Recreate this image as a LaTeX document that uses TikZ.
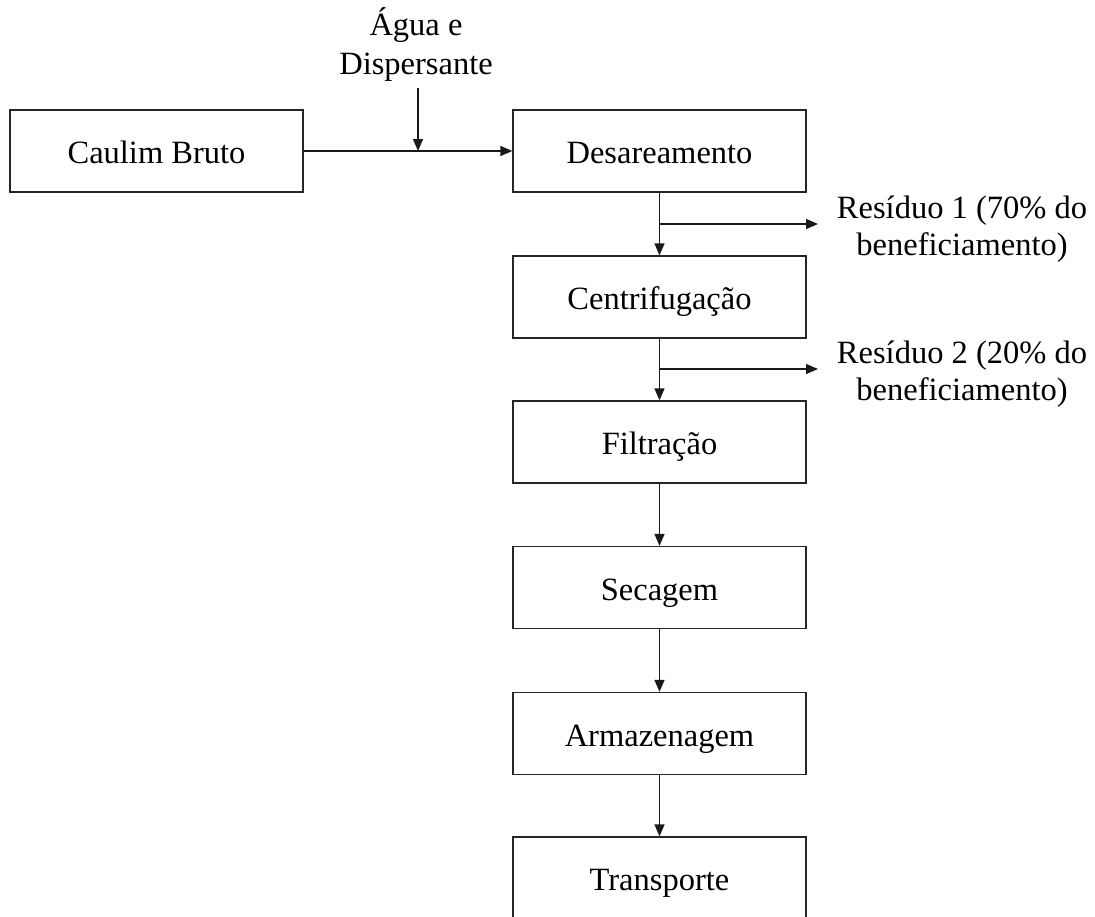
\documentclass[tikz,border=0pt]{standalone}
\usepackage{fontspec}
\setmainfont{Liberation Serif}
\usetikzlibrary{arrows.meta,calc}
\begin{document}
\begin{tikzpicture}[x=1pt,y=-1pt,
  box/.style={draw=black!85,line width=1.3pt,minimum width=293pt,minimum height=82pt,inner sep=0pt,
    text height=25pt,text depth=0pt,font=\fontsize{32.5}{42}\selectfont},
  lbl/.style={align=center,inner sep=0pt,font=\fontsize{32.5}{39}\selectfont},
  rlbl/.style={align=center,inner sep=0pt,font=\fontsize{32.5}{37}\selectfont},
  arr/.style={draw=black!90,line width=1.3pt,-{Triangle[length=12pt,width=10pt]}}]
\useasboundingbox (0,0) rectangle (1095,916);
\node[box] (cb) at (156.5,151) {Caulim Bruto};
\node[box] (des) at (659.5,151) {Desareamento};
\node[box] (cen) at (659.5,297) {Centrifugação};
\node[box] (fil) at (659.5,442) {Filtração};
\node[box] (sec) at (659.5,587.5) {Secagem};
\node[box] (arm) at (659.5,733.5) {Armazenagem};
\node[box] (tra) at (659.5,878) {Transporte};
\node[lbl] (agua) at (416,44.5) {Água e\\Dispersante};
\node[rlbl] (r1) at (962,229) {Resíduo 1 (70\% do\\beneficiamento)};
\node[rlbl] (r2) at (962,374) {Resíduo 2 (20\% do\\beneficiamento)};
\coordinate (a0) at (418,88);
\coordinate (j) at (418,151);
\coordinate (b1) at (659.5,224);
\coordinate (b2) at (659.5,369);
\coordinate (e1) at (818,224);
\coordinate (e2) at (818,369);
\draw[arr] (cb.east) -- (des.west);
\draw[arr] (a0) -- (j);
\draw[arr] (des.south) -- (cen.north);
\draw[arr] (b1) -- (e1);
\draw[arr] (cen.south) -- (fil.north);
\draw[arr] (b2) -- (e2);
\draw[arr] (fil.south) -- (sec.north);
\draw[arr] (sec.south) -- (arm.north);
\draw[arr] (arm.south) -- (tra.north);
\end{tikzpicture}
\end{document}
